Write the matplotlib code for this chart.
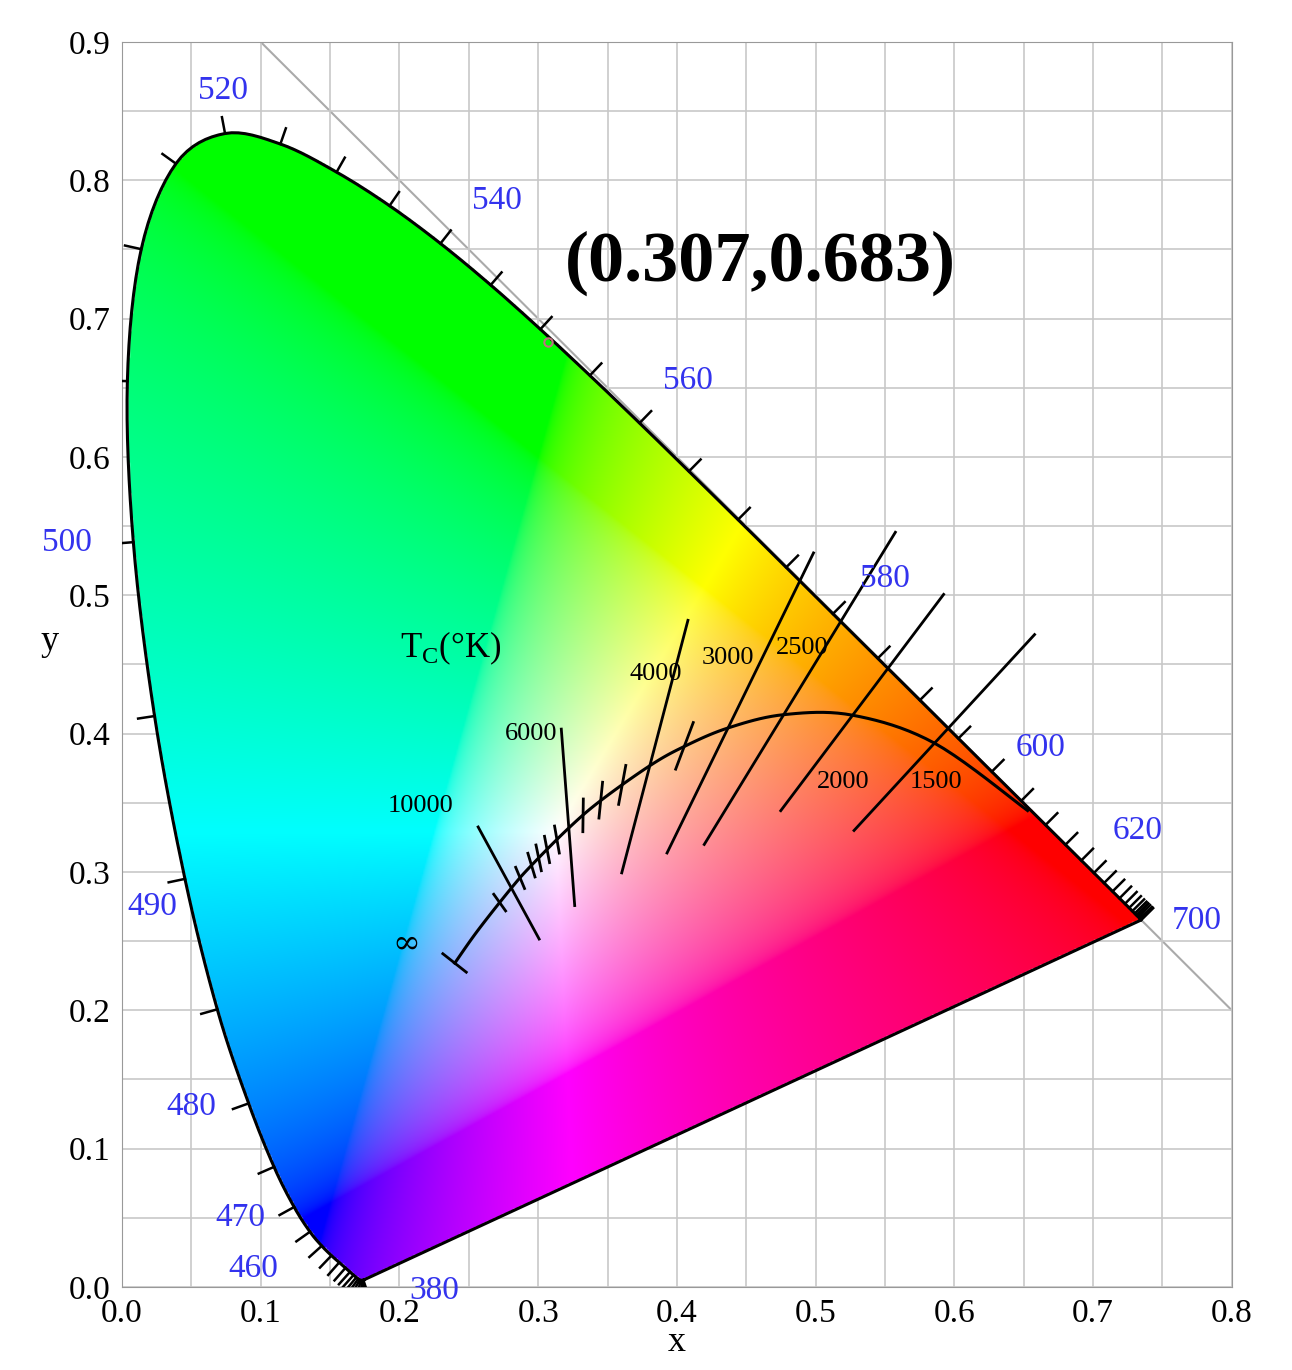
import numpy as np
import matplotlib
matplotlib.use("Agg")
import matplotlib.pyplot as plt
from matplotlib.path import Path

# spectral locus (nm, x, y)
wl = [380,385,390,395,400,405,410,415,420,425,430,435,440,445,450,455,460,465,470,475,480,485,490,495,
      500,505,510,515,520,525,530,535,540,545,550,555,560,565,570,575,580,585,590,595,600,605,610,615,
      620,625,630,635,640,645,650,655,660,665,670,675,680,685,690,695,700]
lx = [0.1741,0.1740,0.1738,0.1736,0.1733,0.1730,0.1726,0.1721,0.1714,0.1703,0.1689,0.1669,0.1644,0.1611,
      0.1566,0.1510,0.1440,0.1355,0.1241,0.1096,0.0913,0.0687,0.0454,0.0235,0.0082,0.0039,0.0139,0.0389,
      0.0743,0.1142,0.1547,0.1929,0.2296,0.2658,0.3016,0.3373,0.3731,0.4087,0.4441,0.4788,0.5125,0.5448,
      0.5752,0.6029,0.6270,0.6482,0.6658,0.6801,0.6915,0.7006,0.7079,0.7140,0.7190,0.7230,0.7260,0.7283,
      0.7300,0.7311,0.7320,0.7327,0.7334,0.7340,0.7344,0.7346,0.7347]
ly = [0.0050,0.0050,0.0049,0.0049,0.0048,0.0048,0.0048,0.0048,0.0051,0.0058,0.0069,0.0086,0.0109,0.0138,
      0.0177,0.0227,0.0297,0.0399,0.0578,0.0868,0.1327,0.2007,0.2950,0.4127,0.5384,0.6548,0.7502,0.8120,
      0.8338,0.8262,0.8059,0.7816,0.7543,0.7243,0.6923,0.6589,0.6245,0.5896,0.5547,0.5202,0.4866,0.4544,
      0.4242,0.3965,0.3725,0.3514,0.3340,0.3197,0.3083,0.2993,0.2920,0.2859,0.2809,0.2770,0.2740,0.2717,
      0.2700,0.2689,0.2680,0.2675,0.2666,0.2660,0.2656,0.2654,0.2653]

# Planckian locus
pT = [1000,1500,2000,2500,3000,3500,4000,5000,6000,8000,10000,20000,1e9]
px = [0.6528,0.5857,0.5267,0.4770,0.4369,0.4053,0.3805,0.3451,0.3221,0.2952,0.2807,0.2565,0.2399]
py = [0.3444,0.3931,0.4133,0.4137,0.4041,0.3907,0.3768,0.3516,0.3318,0.3048,0.2884,0.2577,0.2341]
iso_T = [10000,6000,4000,3000,2500,2000,1500]
iso_labels = ["10000","6000","4000","3000","2500","2000","1500"]
point = (0.307, 0.683)
wl_labels = [380,460,470,480,490,500,520,540,560,580,600,620,700]

def catmull(xs, ys, n=12):
    P = np.column_stack([xs, ys]); P = np.vstack([P[0], P, P[-1]])
    out = []
    for i in range(1, len(P)-2):
        p0,p1,p2,p3 = P[i-1],P[i],P[i+1],P[i+2]
        for t in np.linspace(0,1,n,endpoint=False):
            out.append(0.5*((2*p1)+(-p0+p2)*t+(2*p0-5*p1+4*p2-p3)*t**2+(-p0+3*p1-3*p2+p3)*t**3))
    out.append(P[-2])
    return np.array(out)

fig = plt.figure(figsize=(12.92,13.70), dpi=100)
ax = fig.add_axes([0.0944,0.0606,0.859,0.9088])
ax.set_xlim(0,0.8); ax.set_ylim(0,0.9)
ax.set_xticks(np.arange(0,0.81,0.05))
ax.set_yticks(np.arange(0,0.91,0.05))
ax.grid(True, color="#c8c8c8", lw=1.2, zorder=0)
ax.set_xticklabels([f"{v:.1f}" if i%2==0 else "" for i,v in enumerate(np.arange(0,0.81,0.05))])
ax.set_yticklabels([f"{v:.1f}" if i%2==0 else "" for i,v in enumerate(np.arange(0,0.91,0.05))])
ax.tick_params(length=0, labelsize=24, pad=8)
for t in ax.get_xticklabels()+ax.get_yticklabels():
    t.set_fontfamily("Liberation Serif")
for s in ax.spines.values():
    s.set_color("#999999")
ax.set_xlabel("x", fontsize=26, family="Liberation Serif", labelpad=-2)
ax.set_ylabel("y", fontsize=26, family="Liberation Serif", rotation=0, labelpad=10)
ax.yaxis.set_label_coords(-0.065, 0.505)
ax.plot([0.1,0.8],[0.9,0.2], color="#aaaaaa", lw=1.5, zorder=1)

# colour fill
N = 700
gx, gy = np.meshgrid(np.linspace(0,0.8,N), np.linspace(0,0.9,N))
gyy = np.maximum(gy, 1e-4)
X = gx/gyy; Y = np.ones_like(gx); Z = (1-gx-gy)/gyy
M = np.array([[3.2406,-1.5372,-0.4986],[-0.9689,1.8758,0.0415],[0.0557,-0.2040,1.0570]])
rgb = np.stack([M[i,0]*X+M[i,1]*Y+M[i,2]*Z for i in range(3)], -1)
rgb = np.clip(rgb, 0, None)
rgb = rgb/np.maximum(rgb.max(-1, keepdims=True), 1e-9)
rgb = np.where(rgb<=0.0031308, 12.92*rgb, 1.055*rgb**(1/2.4)-0.055)
smooth = catmull(lx, ly, 8)
poly = np.vstack([smooth, smooth[:1]])
inside = Path(poly).contains_points(np.column_stack([gx.ravel(), gy.ravel()])).reshape(gx.shape)
img = np.dstack([rgb, inside.astype(float)])
ax.imshow(img, extent=[0,0.8,0,0.9], origin="lower", aspect="auto", zorder=2, interpolation="bilinear")
ax.plot(poly[:,0], poly[:,1], color="black", lw=2.2, zorder=3)

# ticks on spectral locus
lxa, lya = np.array(lx), np.array(ly)
cx, cy = 0.33, 0.33
for i in range(len(wl)):
    a = max(i-1,0); b = min(i+1,len(wl)-1)
    tx, ty = lxa[b]-lxa[a], lya[b]-lya[a]
    n = np.array([ty,-tx]); n /= np.hypot(*n)+1e-12
    if np.dot(n, [lxa[i]-cx, lya[i]-cy]) < 0: n = -n
    ax.plot([lxa[i], lxa[i]+0.012*n[0]], [lya[i], lya[i]+0.012*n[1]], color="black", lw=1.8, zorder=3)

lab_pos = {380:(0.225,-0.003),460:(0.095,0.013),470:(0.085,0.05),480:(0.05,0.13),490:(0.022,0.275),
           500:(-0.04,0.538),520:(0.073,0.865),540:(0.27,0.785),560:(0.408,0.655),580:(0.55,0.512),
           600:(0.662,0.39),620:(0.732,0.33),700:(0.775,0.265)}
for w in wl_labels:
    ax.text(*lab_pos[w], str(w), color="#3333ee", fontsize=24, family="Liberation Serif",
            ha="center", va="center", zorder=5, clip_on=False)

# Planckian locus
pl = catmull(px, py, 10)
ax.plot(pl[:,0], pl[:,1], color="black", lw=2.2, zorder=4)
def xy2uv(x,y):
    d = -2*x+12*y+3; return 4*x/d, 6*y/d
def uv2xy(u,v):
    d = 2*u-8*v+4; return 3*u/d, 2*v/d
pu, pv = xy2uv(np.array(px), np.array(py))
mired = 1e6/np.array(pT)
mr, ur, vr = mired[::-1], pu[::-1], pv[::-1]
def iso(T, d):
    m = 1e6/T
    u = np.interp(m, mr, ur); v = np.interp(m, mr, vr)
    du = np.interp(m+8, mr, ur)-np.interp(max(m-8,0), mr, ur)
    dv = np.interp(m+8, mr, vr)-np.interp(max(m-8,0), mr, vr)
    n = np.array([-dv, du]); n /= np.hypot(*n)
    x1,y1 = uv2xy(u+d*n[0], v+d*n[1]); x2,y2 = uv2xy(u-d*n[0], v-d*n[1])
    ax.plot([x1,x2],[y1,y2], color="black", lw=2, zorder=4)
for T in iso_T:
    iso(T, 0.035 if T>=2500 else 0.025)
for T in [5000,5500,6500,7000,7500,8000,9000,12000,4500,3500]:
    iso(T, 0.006)
iso(1e9, 0.01)

lbl_pos = [(0.215,0.348),(0.295,0.4),(0.385,0.443),(0.437,0.455),(0.49,0.462),(0.52,0.365),(0.587,0.365)]
for (x,y),t in zip(lbl_pos, iso_labels):
    ax.text(x,y,t,fontsize=19,family="Liberation Serif",ha="center",va="center",zorder=5)
ax.text(0.237,0.462,r"T$_\mathregular{C}$(°K)",fontsize=25,family="Liberation Serif",ha="center",va="center",zorder=5)
ax.text(0.205,0.248,"∞",fontsize=24,family="DejaVu Serif",ha="center",va="center",zorder=5)

ax.plot(*point, "o", ms=6, mfc="none", mec="#c07080", mew=1.5, zorder=6)
ax.text(0.46,0.74,f"({point[0]},{point[1]})",fontsize=52,fontweight="bold",family="Liberation Serif",
        ha="center",va="center",zorder=6)

fig.savefig("out.png", dpi=100)
